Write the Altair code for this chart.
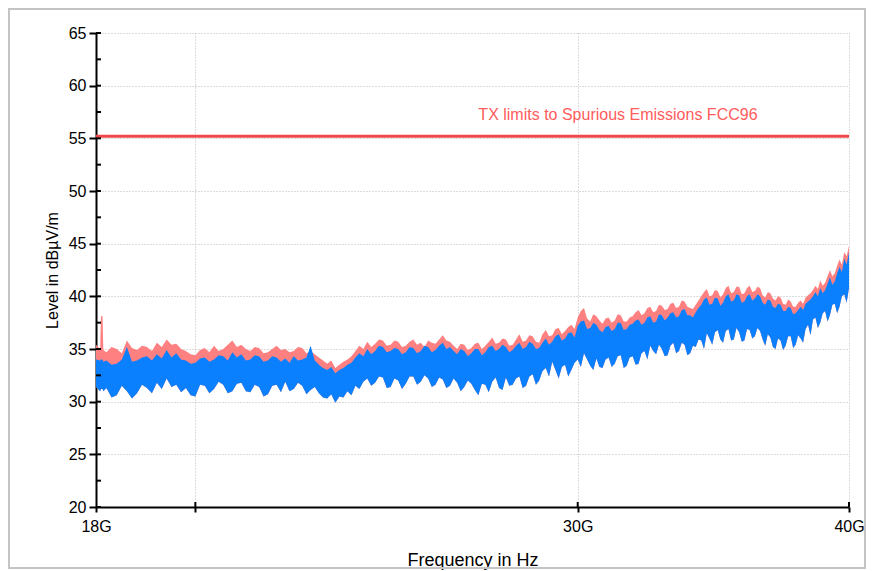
import altair as alt
import pandas as pd

# ---- data (frequency in GHz, level in dBuV/m) ----
freq_ghz = [
    18.0, 18.08, 18.095, 18.125, 18.14, 18.2, 18.3, 18.4, 18.5, 18.6, 18.7, 18.8, 18.9,
    19.0, 19.1, 19.2, 19.3, 19.4, 19.5, 19.6, 19.7, 19.8, 19.9,
    20.0, 20.1, 20.2, 20.3, 20.4, 20.5, 20.6, 20.7, 20.8, 20.9,
    21.0, 21.1, 21.2, 21.3, 21.4, 21.5, 21.6, 21.7, 21.8, 21.9,
    22.0, 22.1, 22.2, 22.3, 22.4, 22.5, 22.6, 22.7, 22.8, 22.9,
    23.0, 23.1, 23.2, 23.3, 23.4, 23.5, 23.6, 23.7, 23.8, 23.9,
    24.0, 24.1, 24.2, 24.3, 24.4, 24.5, 24.6, 24.7, 24.8, 24.9,
    25.0, 25.1, 25.2, 25.3, 25.4, 25.5, 25.6, 25.7, 25.8, 25.9,
    26.0, 26.1, 26.2, 26.3, 26.4, 26.5, 26.6, 26.7, 26.8, 26.9,
    27.0, 27.1, 27.2, 27.3, 27.4, 27.5, 27.6, 27.7, 27.8, 27.9,
    28.0, 28.1, 28.2, 28.3, 28.4, 28.5, 28.6, 28.7, 28.8, 28.9,
    29.0, 29.1, 29.2, 29.3, 29.4, 29.5, 29.6, 29.7, 29.8, 29.9,
    30.0, 30.1, 30.2, 30.3, 30.4, 30.5, 30.6, 30.7, 30.8, 30.9,
    31.0, 31.1, 31.2, 31.3, 31.4, 31.5, 31.6, 31.7, 31.8, 31.9,
    32.0, 32.1, 32.2, 32.3, 32.4, 32.5, 32.6, 32.7, 32.8, 32.9,
    33.0, 33.1, 33.2, 33.3, 33.4, 33.5, 33.6, 33.7, 33.8, 33.9,
    34.0, 34.1, 34.2, 34.3, 34.4, 34.5, 34.6, 34.7, 34.8, 34.9,
    35.0, 35.1, 35.2, 35.3, 35.4, 35.5, 35.6, 35.7, 35.8, 35.9,
    36.0, 36.1, 36.2, 36.3, 36.4, 36.5, 36.6, 36.7, 36.8, 36.9,
    37.0, 37.1, 37.2, 37.3, 37.4, 37.5, 37.6, 37.7, 37.8, 37.9,
    38.0, 38.1, 38.2, 38.3, 38.4, 38.5, 38.6, 38.7, 38.8, 38.9,
    39.0, 39.1, 39.2, 39.3, 39.4, 39.5, 39.6, 39.7, 39.8, 39.9,
    40.0,
]

# max-peak trace (pink), upper edge
peak_top = [
    35.4, 35.0, 38.1, 38.1, 34.9, 34.7, 35.2, 35.0, 34.6, 35.8, 35.1, 34.9, 35.3,
    35.2, 34.8, 35.6, 35.2, 35.9, 35.4, 35.5, 35.0, 34.8, 34.5,
    34.4, 34.9, 35.1, 34.7, 35.3, 34.8, 35.0, 35.4, 35.8, 35.2,
    35.4, 35.0, 34.8, 35.2, 35.1, 34.6, 34.7, 35.0, 35.3, 34.9,
    35.0, 34.7, 34.8, 35.2, 35.1, 34.6, 34.8, 34.5, 34.2, 33.9,
    33.6, 33.9, 33.2, 33.5, 33.8, 34.0, 34.3, 34.8, 35.3, 35.0,
    35.7, 35.2, 35.5, 35.9, 35.8, 35.3, 35.4, 35.8, 35.7, 35.2,
    35.3, 35.7, 35.9, 35.4, 35.6, 35.2, 35.8, 35.6, 35.5, 35.9,
    36.3, 35.8, 35.7, 35.3, 35.0, 35.5, 35.4, 34.9, 35.1, 35.5,
    35.6, 35.0, 35.3, 35.7, 36.1, 35.5, 35.6, 36.0, 35.9, 35.3,
    35.4, 35.9, 36.4, 35.7, 35.8, 36.3, 36.2, 35.7, 35.6, 36.4,
    36.8, 36.2, 36.3, 36.9, 37.0, 36.4, 36.7, 37.1, 37.3, 36.9,
    38.0, 38.6, 38.9, 37.9, 37.6, 38.3, 38.1, 37.7, 37.4, 37.9,
    38.0, 37.5, 37.7, 38.3, 38.2, 37.6, 37.6, 38.0, 38.1, 38.5,
    38.7, 38.2, 38.4, 38.9, 39.0, 38.5, 38.6, 39.2, 39.1, 38.7,
    38.8, 39.3, 39.4, 38.9, 39.0, 39.6, 39.5, 39.0, 38.9, 38.8,
    39.2, 39.6, 40.0, 40.4, 40.7, 40.0, 40.1, 40.6, 40.5, 39.9,
    40.2, 40.8, 41.0, 40.3, 40.4, 40.9, 40.9, 40.2, 40.3, 40.8,
    41.0, 40.4, 40.5, 40.9, 40.8, 40.1, 39.9, 40.4, 40.3, 39.8,
    39.6, 40.0, 39.9, 39.3, 39.2, 39.7, 39.5, 39.0, 39.0, 39.4,
    39.6, 39.3, 39.9, 40.1, 40.3, 40.6, 41.0, 40.7, 41.5, 41.0,
    41.3, 41.9, 42.5, 41.9, 42.2, 42.9, 43.5, 43.0, 44.2, 43.8,
    44.8,
]

# average trace (blue), upper edge
avg_top = [
    34.0, 33.9, 34.0, 34.0, 33.8, 33.9, 33.5, 33.6, 34.0, 35.2, 33.8, 33.9, 34.2,
    34.3, 33.9, 34.5, 34.1, 34.9, 34.2, 34.6, 34.0, 33.9, 33.6,
    33.7, 34.1, 34.2, 33.8, 34.0, 34.4, 34.3, 33.9, 34.7, 34.2,
    34.5, 33.9, 34.0, 34.4, 34.3, 33.8, 33.9, 34.3, 34.2, 33.8,
    34.1, 33.7, 34.3, 33.9, 34.0, 34.2, 35.3, 33.9, 33.5, 33.2,
    33.0, 33.3, 32.7, 33.0, 33.2, 33.5, 33.7, 34.2, 34.6, 34.3,
    35.0, 34.5, 34.8, 35.3, 35.2, 34.7, 34.8, 35.1, 35.0, 34.5,
    34.7, 35.2, 35.1, 34.6, 34.8, 35.3, 35.2, 34.7, 34.9, 35.3,
    35.6, 35.0, 35.2, 34.8, 34.5, 35.0, 34.8, 34.3, 34.6, 35.0,
    35.0, 34.4, 34.7, 35.2, 35.3, 34.8, 35.0, 35.4, 35.2, 34.7,
    34.9, 35.3, 35.6, 35.0, 35.2, 35.7, 35.5, 35.0, 35.1, 35.6,
    36.0, 35.4, 35.7, 36.2, 36.4, 35.8, 36.0, 36.5, 36.6, 36.1,
    37.2, 37.6, 37.7, 36.9, 37.0, 37.5, 37.3, 36.8, 36.6, 37.1,
    37.2, 36.7, 36.9, 37.5, 37.5, 36.8, 36.9, 37.3, 37.4, 37.7,
    37.8, 37.3, 37.5, 38.0, 38.1, 37.5, 37.6, 38.3, 38.2, 37.7,
    38.0, 38.4, 38.5, 38.0, 38.1, 38.7, 38.8, 38.2, 38.2, 38.0,
    38.5, 38.9, 39.2, 39.7, 39.9, 39.2, 39.3, 39.9, 39.8, 39.1,
    39.4, 40.0, 40.2, 39.5, 39.6, 40.2, 40.1, 39.4, 39.5, 40.0,
    40.2, 39.6, 39.8, 40.2, 40.0, 39.4, 39.2, 39.7, 39.6, 39.0,
    38.9, 39.3, 39.2, 38.6, 38.6, 39.0, 38.9, 38.3, 38.4, 38.7,
    39.0, 38.7, 39.3, 39.5, 39.7, 40.0, 40.4, 40.0, 40.8, 40.3,
    40.6, 41.2, 41.8, 41.1, 41.4, 42.2, 42.8, 42.3, 43.6, 43.0,
    44.2,
]

# lower edge of both traces
avg_bottom = [
    31.4, 31.0, 31.2, 31.2, 31.0, 31.3, 30.4, 30.6, 31.5, 31.0, 30.3, 30.8, 31.6,
    31.3, 30.8, 31.8, 31.2, 32.2, 31.4, 31.6, 30.9, 31.3, 30.6,
    30.5, 31.6, 31.5, 30.8, 31.2, 31.9, 31.6, 30.8, 31.0, 31.7,
    31.8, 31.0, 30.9, 31.6, 31.4, 30.5, 30.7, 31.5, 31.6, 30.9,
    31.9, 31.0, 31.2, 31.8, 31.5, 30.7, 31.1, 31.4, 30.8, 30.4,
    30.3, 30.7, 29.9, 30.5, 30.4, 31.0, 30.6, 31.5, 31.2, 31.9,
    32.2, 31.5, 31.8, 32.4, 32.3, 31.3, 31.4, 32.2, 32.0, 31.2,
    31.7, 32.4, 32.4, 31.6, 31.9, 32.5, 32.2, 31.4, 31.6, 32.3,
    32.1, 31.3, 31.5, 32.2, 31.8, 31.0, 31.4, 32.0, 31.7, 31.1,
    30.6, 31.7, 31.6, 30.9, 31.9, 32.3, 31.3, 31.1, 32.3, 31.5,
    31.6, 32.2, 32.4, 31.3, 31.5, 32.4, 32.6, 31.6, 32.0, 32.9,
    33.2, 32.4, 33.8, 33.0, 32.2, 33.3, 33.5, 32.4, 33.0, 33.7,
    34.0, 33.3, 34.6, 34.0, 33.4, 33.0, 34.1, 33.3, 33.2, 34.0,
    34.2, 33.3, 33.6, 34.3, 34.4, 33.2, 33.4, 34.2, 34.3, 33.5,
    33.6, 34.6, 34.8, 34.0, 35.3, 34.8, 34.5, 35.4, 35.0, 34.3,
    34.4, 35.3, 35.6, 34.6, 34.8, 35.6, 35.4, 34.4, 34.6, 35.3,
    35.2, 35.9, 35.8, 35.0, 36.5, 36.0, 35.4, 36.6, 36.8, 35.9,
    35.6, 36.7, 36.9, 35.8, 35.9, 37.0, 36.6, 35.7, 35.8, 36.9,
    36.8, 36.0, 36.2, 37.0, 36.7, 35.9, 35.3, 36.4, 36.1, 35.2,
    35.0, 36.0, 35.8, 34.9, 35.3, 36.2, 36.2, 35.1, 35.4, 36.3,
    36.0, 35.6, 36.9, 37.3, 36.3, 37.8, 38.0, 37.0, 37.5, 38.4,
    38.6, 37.6, 38.2, 39.2, 39.3, 38.4, 39.0, 40.0, 40.2, 39.4,
    40.8,
]

limit_level = [55.2]
limit_label = ["TX limits to Spurious Emissions FCC96"]
limit_label_freq = [27.0]
limit_label_level = [56.75]

x_tick_values = [18, 20, 30, 40]
y_tick_values = [20, 22.5, 25, 27.5, 30, 32.5, 35, 37.5, 40, 42.5, 45,
                 47.5, 50, 52.5, 55, 57.5, 60, 62.5, 65]

X_TITLE = "Frequency in Hz"
Y_TITLE = "Level in dBµV/m"
FONT = "Liberation Sans"

PLOT_W, PLOT_H = 753, 474
PAD = {"left": 88, "top": 25, "right": 17, "bottom": 64}

trace = pd.DataFrame({
    "freq": freq_ghz,
    "peak": peak_top,
    "avg_top": avg_top,
    "avg_bottom": avg_bottom,
})

x_scale = alt.Scale(type="log", domain=[18, 40], nice=False)
y_scale = alt.Scale(domain=[20, 65], nice=False, zero=False)

x_axis = alt.Axis(
    values=x_tick_values,
    labelExpr="datum.value == 20 ? '' : datum.value + 'G'",
    grid=True, gridDash=[1, 2], gridColor="#B8B8B8", gridWidth=1,
    domainColor="black", domainWidth=2,
    tickColor="black", tickWidth=2, tickSize=5,
    labelFontSize=16, labelPadding=6, labelColor="black",
    labelFlush=False, labelOverlap=False,
    titleFontSize=18, titlePadding=17, titleColor="black",
)
y_axis = alt.Axis(
    values=y_tick_values,
    labelExpr="datum.value % 5 == 0 ? datum.value : ''",
    grid=True, gridDash=[1, 2], gridColor="#B8B8B8", gridWidth=1,
    domainColor="black", domainWidth=2,
    tickColor="black", tickWidth=2, tickSize=7,
    labelFontSize=16, labelPadding=3, labelColor="black",
    labelOverlap=False,
    titleFontSize=16, titlePadding=8, titleColor="black",
)

base = alt.Chart(trace)

peak_area = base.mark_area(color="#FF8080", opacity=1, interpolate="linear").encode(
    x=alt.X("freq:Q", scale=x_scale, axis=x_axis, title=X_TITLE),
    y=alt.Y("peak:Q", scale=y_scale, axis=y_axis, title=Y_TITLE),
    y2="avg_bottom:Q",
)

avg_area = base.mark_area(color="#0A80FF", opacity=1, interpolate="linear").encode(
    x=alt.X("freq:Q", title=X_TITLE),
    y=alt.Y("avg_top:Q", title=Y_TITLE),
    y2="avg_bottom:Q",
)

limit_rule = alt.Chart(pd.DataFrame({"lvl": limit_level})).mark_rule(
    color="#F04848", strokeWidth=3
).encode(y=alt.Y("lvl:Q", title=Y_TITLE))

limit_text = alt.Chart(pd.DataFrame({
    "freq": limit_label_freq, "lvl": limit_label_level, "label": limit_label
})).mark_text(
    align="left", baseline="alphabetic", font=FONT, fontSize=16, color="#FF5C5C"
).encode(
    x=alt.X("freq:Q", title=X_TITLE),
    y=alt.Y("lvl:Q", title=Y_TITLE),
    text="label:N",
)

# inner halves of the axis ticks (the reference ticks cross the axis line)
y_inner_ticks = alt.Chart(pd.DataFrame({"lvl": y_tick_values})).mark_rule(
    color="black", strokeWidth=2
).encode(y=alt.Y("lvl:Q", title=Y_TITLE), x=alt.value(0), x2=alt.value(5))

x_inner_ticks = alt.Chart(pd.DataFrame({"freq": x_tick_values[1:]})).mark_rule(
    color="black", strokeWidth=2
).encode(x=alt.X("freq:Q", title=X_TITLE), y=alt.value(PLOT_H - 5), y2=alt.value(PLOT_H))

# light grey outer frame of the figure (decoration around the whole chart)
frame = alt.Chart(pd.DataFrame({"k": [0]})).mark_rect(
    fill="transparent", stroke="#C4C4C4", strokeWidth=2
).encode(
    x=alt.value(-PAD["left"] + 1), x2=alt.value(PLOT_W + PAD["right"] - 1),
    y=alt.value(-PAD["top"] + 1), y2=alt.value(PLOT_H + PAD["bottom"] - 3),
)

chart = alt.layer(
    peak_area, avg_area, limit_rule, limit_text, y_inner_ticks, x_inner_ticks, frame
).properties(
    width=PLOT_W,
    height=PLOT_H,
    padding=PAD,
    autosize=alt.AutoSizeParams(type="none"),
    background="white",
).configure_view(
    strokeWidth=0
).configure_axis(
    labelFont=FONT, titleFont=FONT, titleFontWeight="normal"
)

chart.save("out.html", embed_options={"renderer": "svg", "actions": False})
